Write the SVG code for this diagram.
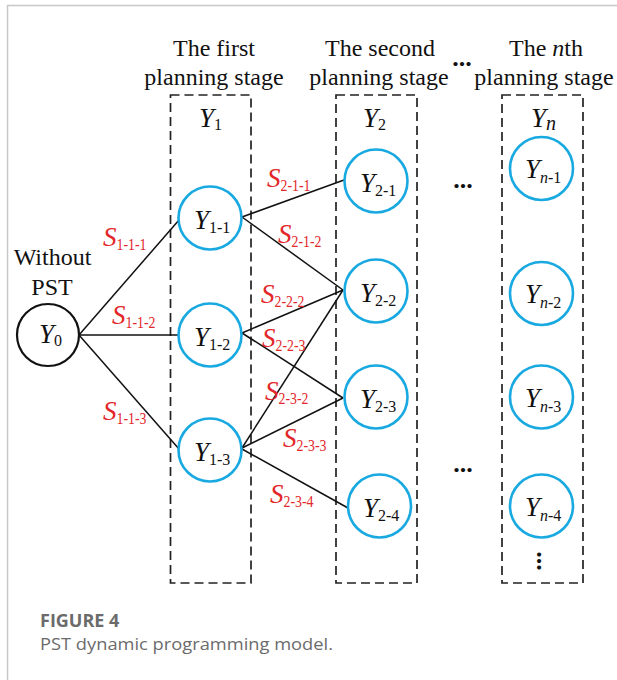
<svg xmlns="http://www.w3.org/2000/svg" width="617" height="680" viewBox="0 0 617 680">
<style>
.frame{fill:none;stroke:#c8c8c8;stroke-width:1.5}
.box{fill:none;stroke:#222;stroke-width:1.7;stroke-dasharray:9 5}
.node{fill:#fff;stroke:#19a9e1;stroke-width:2.6}
.node0{fill:#fff;stroke:#111;stroke-width:2.2}
.edge{stroke:#111;stroke-width:1.5;fill:none}
.t{font-family:"Liberation Serif","Times New Roman",serif;fill:#111}
.h{font-size:24px;text-anchor:middle}
.y{font-size:27px;font-style:italic}
.sub{font-style:normal;font-size:16px}
.s{font-family:"Liberation Serif","Times New Roman",serif;fill:#e3262a;font-size:27px;font-style:italic}
.ss{font-style:normal;font-size:16px}
.dots{font-family:"Liberation Serif",serif;font-size:26px;font-weight:bold;fill:#111;text-anchor:middle}
.cap{font-family:"Open Sans","Noto Sans",sans-serif;fill:#6b6b6b}
</style>
<path class="frame" d="M7.5,680 V5.5 H617"/>

<g id="headings">
<text class="t h" x="214" y="56">The first</text>
<text class="t h" x="214" y="85">planning stage</text>
<text class="t h" x="380" y="56">The second</text>
<text class="t h" x="379" y="85">planning stage</text>
<text class="t h" x="546" y="56">The <tspan font-style="italic">n</tspan>th</text>
<text class="t h" x="544" y="85">planning stage</text>
<text class="dots" x="462" y="66">...</text>
</g>

<g id="stage1">
<rect class="box" x="170.5" y="95" width="80.5" height="488"/>
<text class="t y" x="199" y="127">Y<tspan class="sub" font-size="20px" dy="3">1</tspan></text>
</g>
<g id="stage2">
<rect class="box" x="336" y="95" width="81" height="488"/>
<text class="t y" x="363" y="127">Y<tspan class="sub" font-size="20px" dy="3">2</tspan></text>
</g>
<g id="stagen">
<rect class="box" x="502" y="95" width="81" height="488"/>
<text class="t y" x="531" y="127">Y<tspan font-size="20px" dy="3">n</tspan></text>
</g>

<g id="connectors">
<line class="edge" x1="79" y1="335" x2="179" y2="220"/>
<line class="edge" x1="79" y1="335" x2="178" y2="335"/>
<line class="edge" x1="79" y1="335" x2="179" y2="449"/>
<line class="edge" x1="242" y1="217" x2="344" y2="180"/>
<line class="edge" x1="242" y1="217" x2="343" y2="290"/>
<line class="edge" x1="242" y1="333" x2="343" y2="290"/>
<line class="edge" x1="242" y1="333" x2="343" y2="398"/>
<line class="edge" x1="242" y1="448" x2="343" y2="290"/>
<line class="edge" x1="242" y1="448" x2="343" y2="398"/>
<line class="edge" x1="242" y1="449" x2="348" y2="508"/>
</g>

<g id="edge-labels">
<text class="s" x="103" y="246">S<tspan class="ss" dy="4" textLength="30" lengthAdjust="spacingAndGlyphs">1-1-1</tspan></text>
<text class="s" x="112" y="324">S<tspan class="ss" dy="4" textLength="30" lengthAdjust="spacingAndGlyphs">1-1-2</tspan></text>
<text class="s" x="103" y="420">S<tspan class="ss" dy="4" textLength="30" lengthAdjust="spacingAndGlyphs">1-1-3</tspan></text>
<text class="s" x="267" y="187">S<tspan class="ss" dy="4" textLength="30" lengthAdjust="spacingAndGlyphs">2-1-1</tspan></text>
<text class="s" x="278" y="243">S<tspan class="ss" dy="4" textLength="30" lengthAdjust="spacingAndGlyphs">2-1-2</tspan></text>
<text class="s" x="261" y="303">S<tspan class="ss" dy="4" textLength="30" lengthAdjust="spacingAndGlyphs">2-2-2</tspan></text>
<text class="s" x="262" y="347">S<tspan class="ss" dy="4" textLength="30" lengthAdjust="spacingAndGlyphs">2-2-3</tspan></text>
<text class="s" x="265" y="400">S<tspan class="ss" dy="4" textLength="30" lengthAdjust="spacingAndGlyphs">2-3-2</tspan></text>
<text class="s" x="283" y="447">S<tspan class="ss" dy="4" textLength="30" lengthAdjust="spacingAndGlyphs">2-3-3</tspan></text>
<text class="s" x="270" y="503">S<tspan class="ss" dy="4" textLength="30" lengthAdjust="spacingAndGlyphs">2-3-4</tspan></text>
</g>

<g id="Y0">
<text class="t" x="52.5" y="265" font-size="24" text-anchor="middle">Without</text>
<text class="t" x="52" y="295" font-size="24" text-anchor="middle">PST</text>
<circle class="node0" cx="48" cy="335" r="31"/>
<text class="t y" x="39" y="343">Y<tspan class="sub" dy="3">0</tspan></text>
</g>

<g id="Y1-1"><circle class="node" cx="210" cy="218" r="31.5"/><text class="t y" x="194" y="229">Y<tspan class="sub" dy="4">1-1</tspan></text></g>
<g id="Y1-2"><circle class="node" cx="210" cy="335" r="31.5"/><text class="t y" x="194" y="346">Y<tspan class="sub" dy="4">1-2</tspan></text></g>
<g id="Y1-3"><circle class="node" cx="210" cy="450" r="31.5"/><text class="t y" x="194" y="461">Y<tspan class="sub" dy="4">1-3</tspan></text></g>

<g id="Y2-1"><circle class="node" cx="376" cy="181" r="31.5"/><text class="t y" x="360" y="192">Y<tspan class="sub" dy="4">2-1</tspan></text></g>
<g id="Y2-2"><circle class="node" cx="376" cy="291" r="31.5"/><text class="t y" x="360" y="302">Y<tspan class="sub" dy="4">2-2</tspan></text></g>
<g id="Y2-3"><circle class="node" cx="376" cy="397" r="31.5"/><text class="t y" x="360" y="408">Y<tspan class="sub" dy="4">2-3</tspan></text></g>
<g id="Y2-4"><circle class="node" cx="379.5" cy="506" r="31.5"/><text class="t y" x="363" y="517">Y<tspan class="sub" dy="4">2-4</tspan></text></g>

<g id="Yn-1"><circle class="node" cx="541.5" cy="168.5" r="31.5"/><text class="t y" x="525" y="178">Y<tspan font-size="16px" dy="5">n</tspan><tspan class="sub">-1</tspan></text></g>
<g id="Yn-2"><circle class="node" cx="541.5" cy="293.5" r="31.5"/><text class="t y" x="525" y="303">Y<tspan font-size="16px" dy="5">n</tspan><tspan class="sub">-2</tspan></text></g>
<g id="Yn-3"><circle class="node" cx="541.5" cy="397" r="31.5"/><text class="t y" x="525" y="407">Y<tspan font-size="16px" dy="5">n</tspan><tspan class="sub">-3</tspan></text></g>
<g id="Yn-4"><circle class="node" cx="541.5" cy="506" r="31.5"/><text class="t y" x="525" y="516">Y<tspan font-size="16px" dy="5">n</tspan><tspan class="sub">-4</tspan></text></g>

<g id="ellipses">
<text class="dots" x="463" y="188">...</text>
<text class="dots" x="463" y="472">...</text>
<text class="dots" transform="translate(537,561) rotate(90)" x="0" y="0">...</text>
</g>

<g id="caption">
<text class="cap" x="40" y="627" font-size="18" font-weight="bold" fill="#777">FIGURE 4</text>
<text class="cap" x="40" y="650" font-size="17" textLength="293" lengthAdjust="spacingAndGlyphs">PST dynamic programming model.</text>
</g>
</svg>
